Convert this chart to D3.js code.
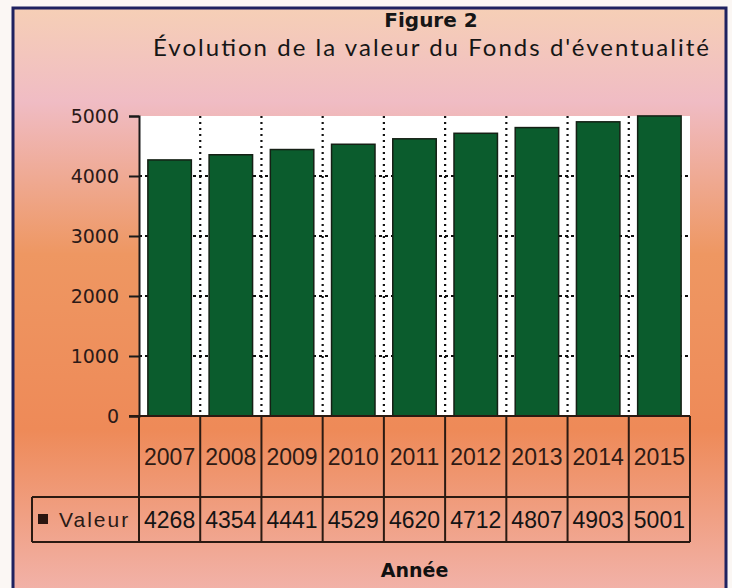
<html>
<script src="https://d3js.org/d3.v7.min.js"></script>
<style>
    body { margin: 0; background: #fbf7f4; }
    svg { display: block; }
</style>
<body>
<svg width="732" height="588"></svg>
<script>
    // data
    var years = ["2007", "2008", "2009", "2010", "2011", "2012", "2013", "2014", "2015"];
    var valeurs = [4268, 4354, 4441, 4529, 4620, 4712, 4807, 4903, 5001];
    var yTicks = [0, 1000, 2000, 3000, 4000, 5000];
    var seriesName = "Valeur";
    var titre = "Figure 2";
    var sousTitre = "Évolution de la valeur du Fonds d'éventualité";
    var axeX = "Année";

    var svg = d3.select("svg");

    // background gradient
    var defs = svg.append("defs");
    var grad = defs.append("linearGradient").attr("id", "fond")
        .attr("x1", 0).attr("y1", 0).attr("x2", 0).attr("y2", 1);
    grad.append("stop").attr("offset", "0%").attr("stop-color", "#f6cfb6");
    grad.append("stop").attr("offset", "16%").attr("stop-color", "#f0bcc4");
    grad.append("stop").attr("offset", "42%").attr("stop-color", "#ee9762");
    grad.append("stop").attr("offset", "72%").attr("stop-color", "#ee8a58");
    grad.append("stop").attr("offset", "100%").attr("stop-color", "#f2b3aa");

    svg.append("rect")
        .attr("x", 13).attr("y", 8).attr("width", 713).attr("height", 586)
        .attr("fill", "url(#fond)")
        .attr("stroke", "#1f2260").attr("stroke-width", 3);

    // titles
    svg.append("text").attr("x", 431).attr("y", 27)
        .attr("text-anchor", "middle")
        .style("font", "bold 20px 'DejaVu Sans', sans-serif").attr("fill", "#161616")
        .text(titre);
    svg.append("text").attr("x", 431).attr("y", 56)
        .attr("text-anchor", "middle")
        .attr("textLength", 556).attr("lengthAdjust", "spacing")
        .style("font", "24px 'Lato', sans-serif").attr("fill", "#161616")
        .text(sousTitre);

    var plotL = 139, plotR = 690, plotT = 116, plotB = 416;
    var row1 = 497, row2 = 542, legendLeft = 32;

    var xs = d3.scaleBand().domain(years).range([plotL, plotR]).padding(0);
    var ys = d3.scaleLinear().domain([0, 5000]).range([plotB, plotT]);

    // plot area
    svg.append("rect")
        .attr("x", plotL).attr("y", plotT)
        .attr("width", plotR - plotL).attr("height", plotB - plotT)
        .attr("fill", "#ffffff");

    // horizontal dotted gridlines (only show in the gaps)
    svg.append("g").selectAll("line").data(yTicks.slice(1, 5)).enter().append("line")
        .attr("x1", plotL).attr("x2", plotR)
        .attr("y1", function (d) { return ys(d); })
        .attr("y2", function (d) { return ys(d); })
        .attr("stroke", "#111").attr("stroke-width", 2)
        .attr("stroke-dasharray", "3,3");

    // vertical dotted gridlines between categories
    svg.append("g").selectAll("line").data(years.slice(1)).enter().append("line")
        .attr("x1", function (d) { return xs(d); })
        .attr("x2", function (d) { return xs(d); })
        .attr("y1", plotT).attr("y2", plotB)
        .attr("stroke", "#111").attr("stroke-width", 2.2)
        .attr("stroke-dasharray", "2,4");

    // bars
    var barW = xs.bandwidth() * 0.71;
    svg.append("g").selectAll("rect").data(valeurs).enter().append("rect")
        .attr("x", function (d, i) { return xs(years[i]) + (xs.bandwidth() - barW) / 2; })
        .attr("y", function (d) { return ys(d); })
        .attr("width", barW)
        .attr("height", function (d) { return plotB - ys(d); })
        .attr("fill", "#0b5c2d")
        .attr("stroke", "#152015").attr("stroke-width", 1.5);

    // y axis
    var yAxis = svg.append("g")
        .attr("transform", "translate(" + plotL + ",0)")
        .call(d3.axisLeft(ys).tickValues(yTicks).tickFormat(d3.format("d"))
            .tickSize(10).tickPadding(10));
    yAxis.select(".domain").attr("stroke", "#1a1a1a").attr("stroke-width", 2);
    yAxis.selectAll(".tick line").attr("stroke", "#1a1a1a").attr("stroke-width", 2);
    yAxis.selectAll(".tick text")
        .style("font", "19px 'DejaVu Sans', sans-serif")
        .attr("fill", "#2b1a18");

    // data table
    var table = svg.append("g").attr("stroke", "#2a1a12").attr("stroke-width", 2);
    table.append("line").attr("x1", plotL - 10).attr("x2", plotR).attr("y1", plotB).attr("y2", plotB);
    table.append("line").attr("x1", legendLeft).attr("x2", plotR).attr("y1", row1).attr("y2", row1);
    table.append("line").attr("x1", legendLeft).attr("x2", plotR).attr("y1", row2).attr("y2", row2);
    table.append("line").attr("x1", legendLeft).attr("x2", legendLeft).attr("y1", row1).attr("y2", row2);
    table.selectAll("line.col").data(years.concat(["fin"])).enter().append("line")
        .attr("class", "col")
        .attr("x1", function (d, i) { return plotL + i * xs.step(); })
        .attr("x2", function (d, i) { return plotL + i * xs.step(); })
        .attr("y1", plotB).attr("y2", row2);

    svg.append("g").selectAll("text").data(years).enter().append("text")
        .attr("x", function (d) { return xs(d) + xs.bandwidth() / 2; })
        .attr("y", (plotB + row1) / 2 + 8)
        .attr("text-anchor", "middle")
        .style("font", "23px 'Liberation Sans', Arial, sans-serif")
        .attr("fill", "#2e1a14")
        .text(function (d) { return d; });

    svg.append("g").selectAll("text").data(valeurs).enter().append("text")
        .attr("x", function (d, i) { return xs(years[i]) + xs.bandwidth() / 2; })
        .attr("y", (row1 + row2) / 2 + 8)
        .attr("text-anchor", "middle")
        .style("font", "23px 'Liberation Sans', Arial, sans-serif")
        .attr("fill", "#141414")
        .text(function (d) { return d; });

    // legend key
    svg.append("rect").attr("x", 38).attr("y", 514).attr("width", 10).attr("height", 10)
        .attr("fill", "#2a1510");
    svg.append("text").attr("x", 59).attr("y", 527)
        .style("font", "21px 'Liberation Sans', Arial, sans-serif")
        .style("letter-spacing", "2px")
        .attr("fill", "#2a1a16")
        .text(seriesName);

    // x axis title
    svg.append("text").attr("x", (plotL + plotR) / 2).attr("y", 577)
        .attr("text-anchor", "middle")
        .style("font", "bold 19px 'DejaVu Sans', sans-serif")
        .attr("fill", "#111")
        .text(axeX);
</script>
</body>
</html>
